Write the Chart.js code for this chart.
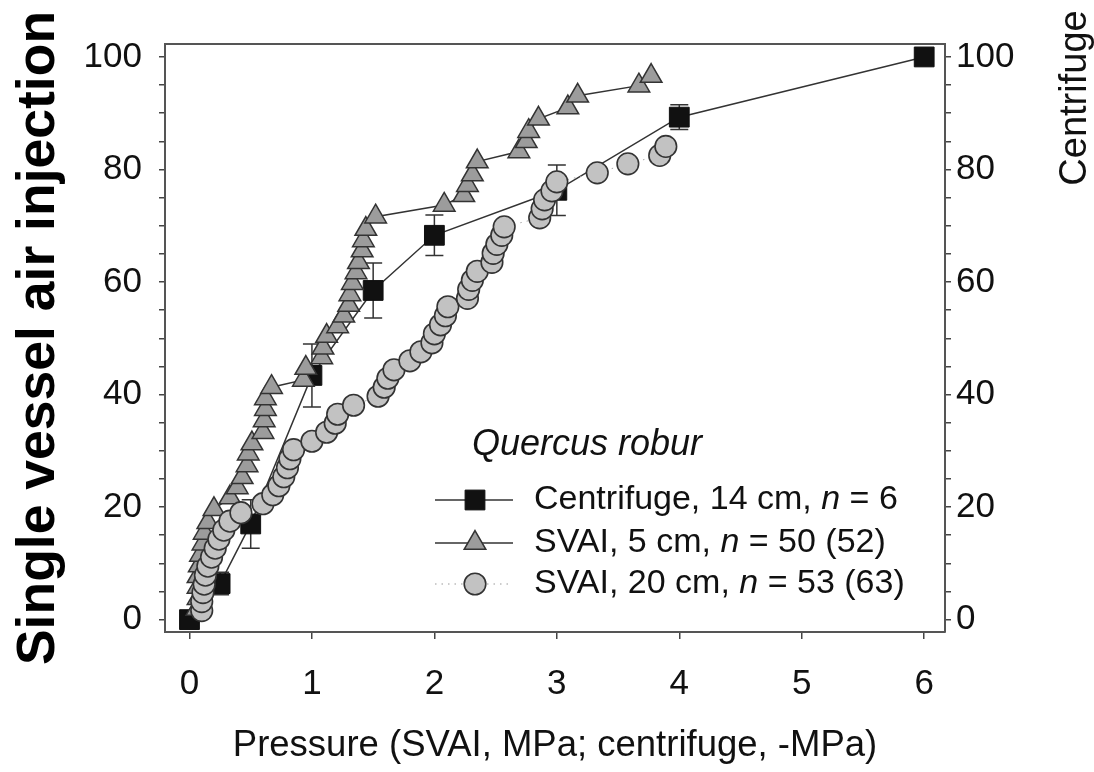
<!DOCTYPE html>
<html><head><meta charset="utf-8">
<script src="https://cdn.jsdelivr.net/npm/chart.js@4.4.0/dist/chart.umd.min.js"></script>
<style>html,body{margin:0;padding:0;background:#fff;overflow:hidden}</style>
</head><body>
<canvas id="c" width="1094" height="772"></canvas>
<script>
// ---- data ----
const xTicks = [0, 1, 2, 3, 4, 5, 6];
const yTicks = [0,5,10,15,20,25,30,35,40,45,50,55,60,65,70,75,80,85,90,95,100];
const yLabelTicks = [0, 20, 40, 60, 80, 100];

const centrifugeX   = [0, 0.25, 0.5, 1, 1.5, 2, 3, 4, 6];
const centrifugeY   = [0, 6.4, 17, 43.4, 58.5, 68.3, 76.3, 89.3, 100];
const centrifugeErr = [0, 2, 4.3, 5.6, 4.9, 3.6, 4.5, 2.2, 0];

const svai5X = [0.06,0.07,0.07,0.07,0.08,0.09,0.11,0.12,0.15,0.2,
                0.33,0.39,0.43,0.47,0.48,0.51,0.6,0.61,0.62,0.62,0.67,
                0.93,0.95,1.08,1.09,1.12,1.21,1.26,1.3,1.31,1.33,1.36,1.38,1.41,1.42,1.44,1.52,
                2.08,2.24,2.27,2.31,2.35,
                2.69,2.75,2.77,2.85,
                3.09,3.17,
                3.67,3.77];
const svai5Y = [1.9,3.8,5.8,7.7,9.6,11.5,13.5,15.4,17.3,19.6,
                21.7,23.5,25.3,27.4,29.5,31.3,33.3,35.4,37.4,39.3,41.3,
                42.6,44.7,46.6,48.3,50.4,52.1,54.0,55.9,57.8,59.8,61.7,63.5,65.6,67.4,69.4,71.6,
                73.7,75.4,77.2,79.1,81.4,
                83.2,85.0,86.8,89.0,
                91.0,93.1,
                94.9,96.6];

const svai20X = [0.10,0.10,0.11,0.12,0.13,0.15,0.18,0.21,0.24,0.28,0.33,0.42,
                 0.6,0.68,0.73,0.77,0.8,0.82,0.85,
                 1.0,1.12,1.19,1.21,1.34,1.54,1.59,1.62,1.67,
                 1.8,1.89,1.98,2.0,2.05,2.09,2.11,2.27,2.28,2.31,2.35,2.47,2.48,2.51,2.55,2.57,
                 2.86,2.88,2.9,2.96,3.0,
                 3.33,3.58,3.84,3.89];
const svai20Y = [1.6,3.2,4.8,6.3,7.9,9.5,11.1,12.7,14.3,15.9,17.5,19.0,
                 20.6,22.2,23.8,25.4,27.0,28.6,30.2,
                 31.7,33.3,34.9,36.5,38.1,39.7,41.3,42.9,44.4,
                 46.0,47.6,49.2,50.8,52.4,54.0,55.6,57.1,58.7,60.3,61.9,63.5,65.1,66.7,68.3,69.8,
                 71.4,73.0,74.6,76.2,77.8,
                 79.4,81.0,82.5,84.1];

const legendTitle = 'Quercus robur';
const legendLabels = [
  ['Centrifuge, 14 cm, ', 'n', ' = 6'],
  ['SVAI, 5 cm, ', 'n', ' = 50 (52)'],
  ['SVAI, 20 cm, ', 'n', ' = 53 (63)']
];
const xTitle = 'Pressure (SVAI, MPa; centrifuge, -MPa)';
const yTitle = 'Single vessel air injection';
const y2Title = 'Centrifuge';

// ---- helpers ----
const FONT = "'Liberation Sans', Arial, Helvetica, sans-serif";
const pts = (xs, ys) => xs.map((v, i) => ({x: v, y: ys[i]}));

const dsCentrifuge = {
  label: 'Centrifuge', data: pts(centrifugeX, centrifugeY), showLine: true,
  borderColor: '#333', borderWidth: 1.5,
  pointStyle: 'rect', pointRadius: 14, pointBackgroundColor: '#111', pointBorderColor: '#111', pointBorderWidth: 1,
  order: 2, clip: false
};
const dsSvai5 = {
  label: 'SVAI 5', data: pts(svai5X, svai5Y), showLine: true,
  borderColor: '#333', borderWidth: 1.5,
  pointStyle: 'triangle', pointRadius: 12.5, pointBackgroundColor: '#9c9c9c', pointBorderColor: '#333', pointBorderWidth: 1.5,
  order: 1, clip: false
};
const dsSvai20 = {
  label: 'SVAI 20', data: pts(svai20X, svai20Y), showLine: true,
  borderColor: '#aaa', borderWidth: 1, borderDash: [1.5, 5],
  pointStyle: 'circle', pointRadius: 10.8, pointBackgroundColor: '#c2c2c2', pointBorderColor: '#333', pointBorderWidth: 1.6,
  order: 0, clip: false
};

function drawMarker(ctx, ds, x, y) {
  ctx.save();
  ctx.fillStyle = ds.pointBackgroundColor;
  ctx.strokeStyle = ds.pointBorderColor;
  ctx.lineWidth = ds.pointBorderWidth;
  Chart.helpers.drawPoint(ctx, {pointStyle: ds.pointStyle, radius: ds.pointRadius, rotation: 0, borderWidth: ds.pointBorderWidth}, x, y);
  ctx.restore();
}

const errorBars = {
  id: 'errorBars',
  beforeDatasetsDraw(chart) {
    const {ctx, scales: {x, y}} = chart;
    ctx.save();
    ctx.strokeStyle = '#333';
    ctx.lineWidth = 1.5;
    centrifugeX.forEach((vx, i) => {
      const e = centrifugeErr[i];
      if (!e) return;
      const px = x.getPixelForValue(vx);
      const t = y.getPixelForValue(centrifugeY[i] + e);
      const b = y.getPixelForValue(centrifugeY[i] - e);
      ctx.beginPath();
      ctx.moveTo(px, t); ctx.lineTo(px, b);
      ctx.moveTo(px - 9, t); ctx.lineTo(px + 9, t);
      ctx.moveTo(px - 9, b); ctx.lineTo(px + 9, b);
      ctx.stroke();
    });
    // top frame line
    const ca = chart.chartArea;
    ctx.strokeStyle = '#555';
    ctx.lineWidth = 2;
    ctx.beginPath();
    ctx.moveTo(ca.left, ca.top); ctx.lineTo(ca.right, ca.top);
    ctx.stroke();
    ctx.restore();
  }
};

const customText = {
  id: 'customText',
  afterDraw(chart) {
    const ctx = chart.ctx;
    ctx.save();
    // right title
    ctx.translate(1076, 98);
    ctx.rotate(-Math.PI / 2);
    ctx.fillStyle = '#111';
    ctx.font = '38px ' + FONT;
    ctx.textAlign = 'center';
    ctx.textBaseline = 'middle';
    ctx.fillText(y2Title, 0, 0);
    ctx.restore();

    // legend
    ctx.save();
    ctx.fillStyle = '#111';
    ctx.textBaseline = 'middle';
    ctx.textAlign = 'left';
    ctx.font = 'italic 36px ' + FONT;
    ctx.fillText(legendTitle, 472, 445);
    const rows = [500, 543, 584];
    const sets = [dsCentrifuge, dsSvai5, dsSvai20];
    sets.forEach((ds, i) => {
      const yy = rows[i];
      ctx.save();
      ctx.strokeStyle = i === 2 ? '#999' : '#333';
      ctx.lineWidth = i === 2 ? 1.2 : 1.5;
      ctx.setLineDash(i === 2 ? [1.5, 5] : []);
      ctx.beginPath(); ctx.moveTo(435, yy); ctx.lineTo(513, yy); ctx.stroke();
      ctx.restore();
      drawMarker(ctx, ds, 475, yy);
      let tx = 534;
      const parts = legendLabels[i];
      parts.forEach((p, k) => {
        ctx.font = (k === 1 ? 'italic ' : '') + '34px ' + FONT;
        ctx.fillStyle = '#111';
        ctx.fillText(p, tx, yy);
        tx += ctx.measureText(p).width;
      });
    });
    ctx.restore();
  }
};

const tickSet = vals => scale => { scale.ticks = vals.map(v => ({value: v})); };
const yLabel = v => yLabelTicks.includes(v) ? String(v) : '';

new Chart(document.getElementById('c'), {
  type: 'scatter',
  data: {datasets: [dsCentrifuge, dsSvai5, dsSvai20]},
  plugins: [errorBars, customText],
  options: {
    responsive: false,
    animation: false,
    events: [],
    layout: {padding: {top: 44, left: 0, right: 0, bottom: 0}},
    plugins: {legend: {display: false}, tooltip: {enabled: false}},
    scales: {
      x: {
        type: 'linear', position: 'bottom', min: -0.2, max: 6.17,
        afterBuildTicks: tickSet(xTicks),
        afterFit: s => { s.height = 140; },
        grid: {drawOnChartArea: false, drawTicks: true, tickLength: 7, color: '#444', lineWidth: 1.5},
        border: {display: true, color: '#555', width: 2},
        ticks: {font: {family: FONT, size: 35}, color: '#111', padding: 24, maxRotation: 0, autoSkip: false},
        title: {display: true, text: xTitle, color: '#111', font: {family: FONT, size: 36.5}, padding: {top: 0, bottom: 4}}
      },
      y: {
        type: 'linear', position: 'left', min: -2.2, max: 102.3,
        afterBuildTicks: tickSet(yTicks),
        afterFit: s => { s.width = 165; },
        grid: {drawOnChartArea: false, drawTicks: true, tickLength: 6, color: '#444', lineWidth: 1.5},
        border: {display: true, color: '#555', width: 2},
        ticks: {font: {family: FONT, size: 35}, color: '#111', padding: 17, autoSkip: false, callback: yLabel},
        title: {display: true, text: yTitle, color: '#000', font: {family: FONT, size: 53.5, weight: 'bold', lineHeight: 1}, padding: {top: 12, bottom: 0}}
      },
      y2: {
        type: 'linear', position: 'right', min: -2.2, max: 102.3,
        afterBuildTicks: tickSet(yTicks),
        afterFit: s => { s.width = 149; },
        grid: {drawOnChartArea: false, drawTicks: true, tickLength: 6, color: '#444', lineWidth: 1.5},
        border: {display: true, color: '#555', width: 2},
        ticks: {font: {family: FONT, size: 35}, color: '#111', padding: 5, autoSkip: false, callback: yLabel}
      }
    }
  }
});
</script>
</body></html>
